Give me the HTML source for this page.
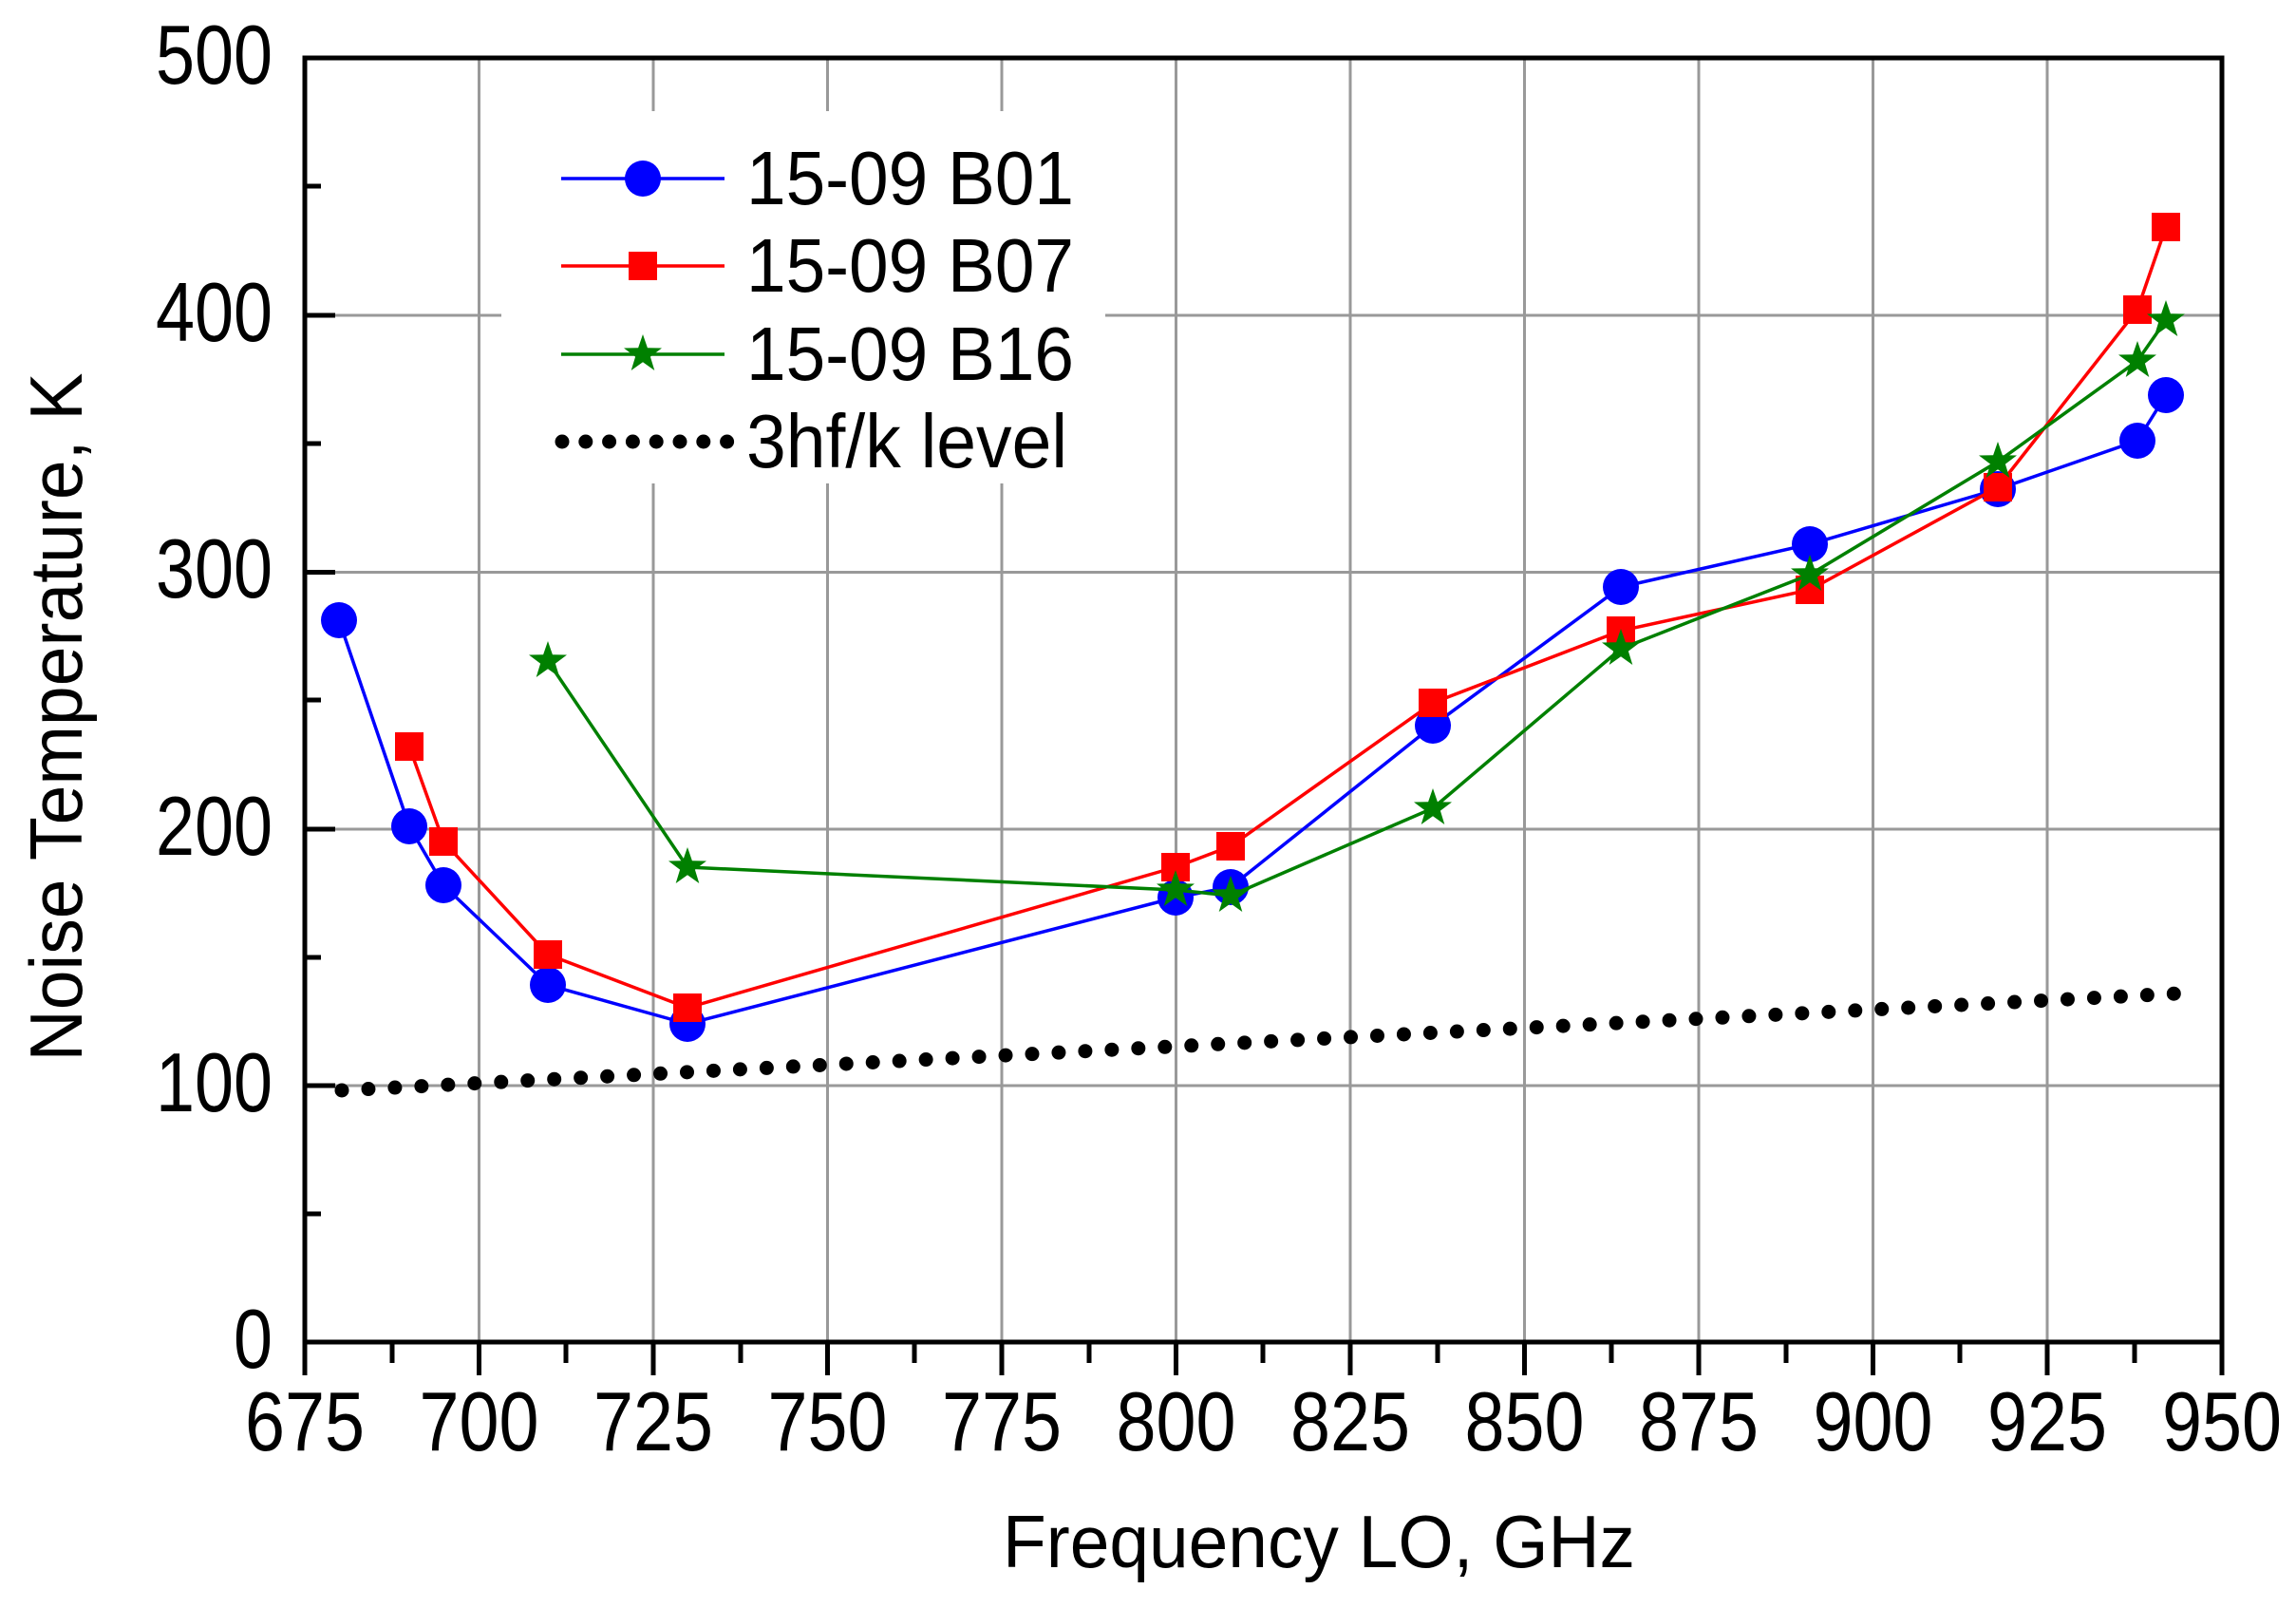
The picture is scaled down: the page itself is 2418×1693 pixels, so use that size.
<!DOCTYPE html>
<html><head><meta charset="utf-8"><style>html,body{margin:0;padding:0;background:#fff}svg{display:block}</style></head>
<body>
<svg width="2418" height="1693" viewBox="0 0 2418 1693" xmlns="http://www.w3.org/2000/svg" font-family="Liberation Sans, Arial, sans-serif">
<defs>
<g id="st"><polygon points="0,-21 4.9,-6.7 20,-6.5 7.9,2.6 12.3,17 0,8.3 -12.3,17 -7.9,2.6 -20,-6.5 -4.9,-6.7" fill="#008000"/></g>
</defs>
<rect width="2418" height="1693" fill="#fff"/>
<g id="grid" stroke="#999" stroke-width="3">
<line x1="504.5" y1="61" x2="504.5" y2="1413"/><line x1="688" y1="61" x2="688" y2="1413"/><line x1="871.5" y1="61" x2="871.5" y2="1413"/><line x1="1055" y1="61" x2="1055" y2="1413"/><line x1="1238.5" y1="61" x2="1238.5" y2="1413"/><line x1="1422" y1="61" x2="1422" y2="1413"/><line x1="1605.5" y1="61" x2="1605.5" y2="1413"/><line x1="1789" y1="61" x2="1789" y2="1413"/><line x1="1972.5" y1="61" x2="1972.5" y2="1413"/><line x1="2156" y1="61" x2="2156" y2="1413"/>
<line x1="321" y1="332" x2="2340" y2="332"/><line x1="321" y1="602.5" x2="2340" y2="602.5"/><line x1="321" y1="873" x2="2340" y2="873"/><line x1="321" y1="1143" x2="2340" y2="1143"/>
</g>
<rect x="528" y="117" width="636" height="392" fill="#fff"/>
<line x1="360" y1="1148" x2="2312" y2="1045" stroke="#000" stroke-width="15" stroke-linecap="round" stroke-dasharray="0 28"/>
<polyline fill="none" stroke="#0000ff" stroke-width="3.5" points="357,653 431,870 467,932 577,1037 724,1078 1238,945 1296,934 1509,764 1707,618 1906,573 2104,515 2251,464 2281,416"/>
<g fill="#0000ff"><circle cx="357" cy="653" r="19"/><circle cx="431" cy="870" r="19"/><circle cx="467" cy="932" r="19"/><circle cx="577" cy="1037" r="19"/><circle cx="724" cy="1078" r="19"/><circle cx="1238" cy="945" r="19"/><circle cx="1296" cy="934" r="19"/><circle cx="1509" cy="764" r="19"/><circle cx="1707" cy="618" r="19"/><circle cx="1906" cy="573" r="19"/><circle cx="2104" cy="515" r="19"/><circle cx="2251" cy="464" r="19"/><circle cx="2281" cy="416" r="19"/></g>
<polyline fill="none" stroke="#ff0000" stroke-width="3.5" points="431,786 467,886 577,1005 724,1061 1238,913 1296,891 1509,740 1707,664 1906,621 2104,513 2251,326 2281,239"/>
<g fill="#ff0000"><rect x="416" y="771" width="30" height="30"/><rect x="452" y="871" width="30" height="30"/><rect x="562" y="990" width="30" height="30"/><rect x="709" y="1046" width="30" height="30"/><rect x="1223" y="898" width="30" height="30"/><rect x="1281" y="876" width="30" height="30"/><rect x="1494" y="725" width="30" height="30"/><rect x="1692" y="649" width="30" height="30"/><rect x="1891" y="606" width="30" height="30"/><rect x="2089" y="498" width="30" height="30"/><rect x="2236" y="311" width="30" height="30"/><rect x="2266" y="224" width="30" height="30"/></g>
<polyline fill="none" stroke="#008000" stroke-width="3.5" points="577,696 724,913 1238,937 1296,943 1509,851 1707,683 1906,605 2104,486 2251,380 2281,337"/>
<use href="#st" x="577" y="696"/><use href="#st" x="724" y="913"/><use href="#st" x="1238" y="937"/><use href="#st" x="1296" y="943"/><use href="#st" x="1509" y="851"/><use href="#st" x="1707" y="683"/><use href="#st" x="1906" y="605"/><use href="#st" x="2104" y="486"/><use href="#st" x="2251" y="380"/><use href="#st" x="2281" y="337"/>
<rect x="321" y="61" width="2019" height="1352" fill="none" stroke="#000" stroke-width="5"/>
<g stroke="#000" stroke-width="5">
<line x1="321" y1="61" x2="353" y2="61"/><line x1="321" y1="332" x2="353" y2="332"/><line x1="321" y1="602.5" x2="353" y2="602.5"/><line x1="321" y1="873" x2="353" y2="873"/><line x1="321" y1="1143" x2="353" y2="1143"/>
<line x1="321" y1="196" x2="338" y2="196"/><line x1="321" y1="467" x2="338" y2="467"/><line x1="321" y1="737" x2="338" y2="737"/><line x1="321" y1="1008" x2="338" y2="1008"/><line x1="321" y1="1278" x2="338" y2="1278"/>
<line x1="321" y1="1413" x2="321" y2="1448"/><line x1="504.5" y1="1413" x2="504.5" y2="1448"/><line x1="688" y1="1413" x2="688" y2="1448"/><line x1="871.5" y1="1413" x2="871.5" y2="1448"/><line x1="1055" y1="1413" x2="1055" y2="1448"/><line x1="1238.5" y1="1413" x2="1238.5" y2="1448"/><line x1="1422" y1="1413" x2="1422" y2="1448"/><line x1="1605.5" y1="1413" x2="1605.5" y2="1448"/><line x1="1789" y1="1413" x2="1789" y2="1448"/><line x1="1972.5" y1="1413" x2="1972.5" y2="1448"/><line x1="2156" y1="1413" x2="2156" y2="1448"/><line x1="2340" y1="1413" x2="2340" y2="1448"/>
<line x1="413" y1="1413" x2="413" y2="1435"/><line x1="596" y1="1413" x2="596" y2="1435"/><line x1="780" y1="1413" x2="780" y2="1435"/><line x1="963" y1="1413" x2="963" y2="1435"/><line x1="1147" y1="1413" x2="1147" y2="1435"/><line x1="1330" y1="1413" x2="1330" y2="1435"/><line x1="1514" y1="1413" x2="1514" y2="1435"/><line x1="1697" y1="1413" x2="1697" y2="1435"/><line x1="1881" y1="1413" x2="1881" y2="1435"/><line x1="2064" y1="1413" x2="2064" y2="1435"/><line x1="2248" y1="1413" x2="2248" y2="1435"/>
</g>
<g font-size="88" text-anchor="end" fill="#000" lengthAdjust="spacingAndGlyphs">
<text x="287" y="88" textLength="123" lengthAdjust="spacingAndGlyphs">500</text><text x="287" y="359" textLength="123" lengthAdjust="spacingAndGlyphs">400</text><text x="287" y="629" textLength="123" lengthAdjust="spacingAndGlyphs">300</text><text x="287" y="900" textLength="123" lengthAdjust="spacingAndGlyphs">200</text><text x="287" y="1170" textLength="123" lengthAdjust="spacingAndGlyphs">100</text><text x="287" y="1440" textLength="41" lengthAdjust="spacingAndGlyphs">0</text>
</g>
<g font-size="88" text-anchor="middle" fill="#000">
<text x="321" y="1527" textLength="126" lengthAdjust="spacingAndGlyphs">675</text><text x="504.5" y="1527" textLength="126" lengthAdjust="spacingAndGlyphs">700</text><text x="688" y="1527" textLength="126" lengthAdjust="spacingAndGlyphs">725</text><text x="871.5" y="1527" textLength="126" lengthAdjust="spacingAndGlyphs">750</text><text x="1055" y="1527" textLength="126" lengthAdjust="spacingAndGlyphs">775</text><text x="1238.5" y="1527" textLength="126" lengthAdjust="spacingAndGlyphs">800</text><text x="1422" y="1527" textLength="126" lengthAdjust="spacingAndGlyphs">825</text><text x="1605.5" y="1527" textLength="126" lengthAdjust="spacingAndGlyphs">850</text><text x="1789" y="1527" textLength="126" lengthAdjust="spacingAndGlyphs">875</text><text x="1972.5" y="1527" textLength="126" lengthAdjust="spacingAndGlyphs">900</text><text x="2156" y="1527" textLength="126" lengthAdjust="spacingAndGlyphs">925</text><text x="2340" y="1527" textLength="126" lengthAdjust="spacingAndGlyphs">950</text>
</g>
<text x="1389" y="1650" font-size="78" text-anchor="middle" textLength="666" lengthAdjust="spacingAndGlyphs">Frequency LO, GHz</text>
<text transform="translate(86,755) rotate(-90)" font-size="78" text-anchor="middle" textLength="725" lengthAdjust="spacingAndGlyphs">Noise Temperature, K</text>
<line x1="591" y1="188" x2="763" y2="188" stroke="#0000ff" stroke-width="3.5"/><circle cx="677" cy="188" r="19" fill="#0000ff"/>
<line x1="591" y1="280" x2="763" y2="280" stroke="#ff0000" stroke-width="3.5"/><rect x="662" y="265" width="30" height="30" fill="#ff0000"/>
<line x1="591" y1="373" x2="763" y2="373" stroke="#008000" stroke-width="3.5"/><use href="#st" x="677" y="373"/>
<line x1="592" y1="465" x2="766" y2="465" stroke="#000" stroke-width="15" stroke-linecap="round" stroke-dasharray="0 24.8"/>
<g font-size="80" fill="#000">
<text x="786" y="215" textLength="345" lengthAdjust="spacingAndGlyphs">15-09 B01</text><text x="786" y="307" textLength="345" lengthAdjust="spacingAndGlyphs">15-09 B07</text><text x="786" y="400" textLength="345" lengthAdjust="spacingAndGlyphs">15-09 B16</text><text x="786" y="492" textLength="338" lengthAdjust="spacingAndGlyphs">3hf/k level</text>
</g>
</svg>
</body></html>
